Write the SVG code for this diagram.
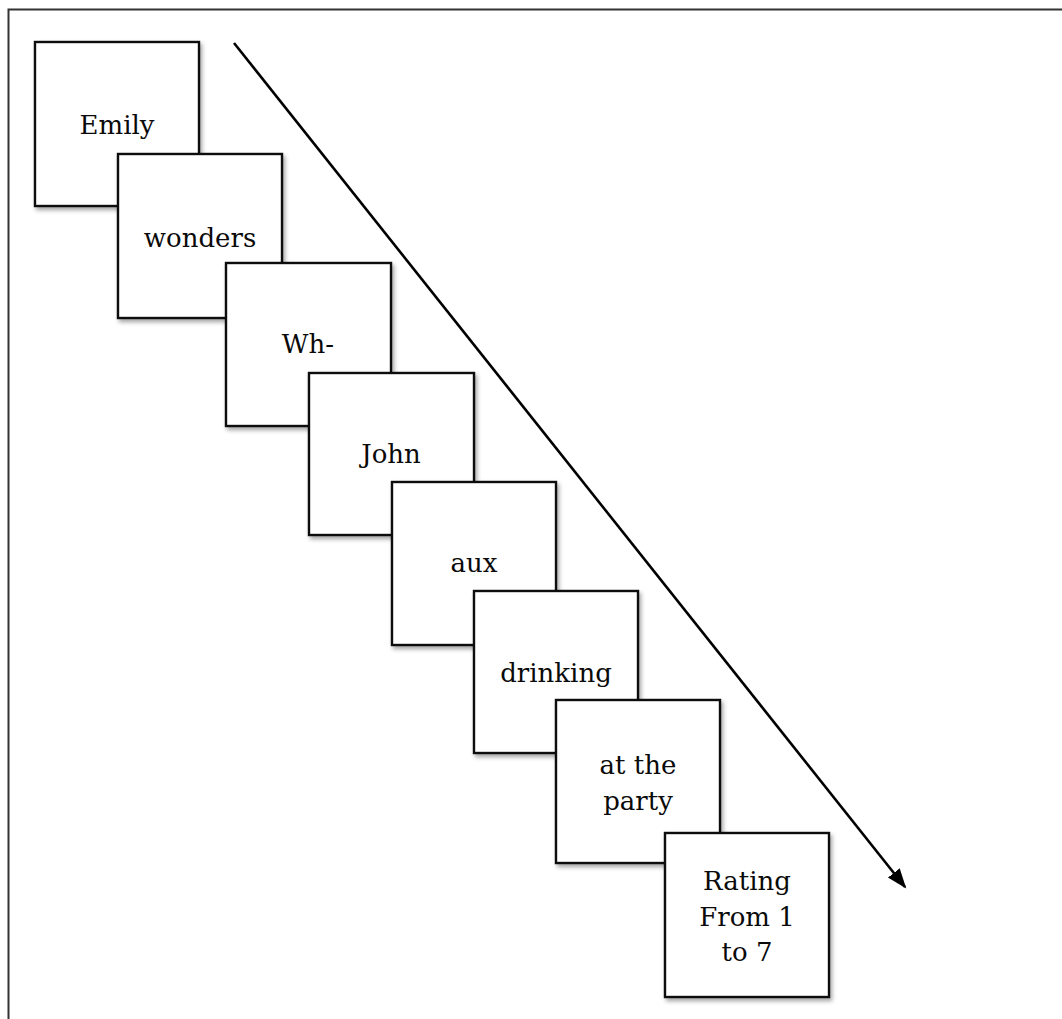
<svg xmlns="http://www.w3.org/2000/svg" width="1062" height="1019" viewBox="0 0 1062 1019">
  <defs>
    <filter id="sh" x="-10%" y="-10%" width="125%" height="125%">
      <feDropShadow dx="2" dy="3" stdDeviation="2" flood-color="#000" flood-opacity="0.35"/>
    </filter>
    <marker id="ah" markerUnits="userSpaceOnUse" markerWidth="22" markerHeight="18" refX="18" refY="9" orient="auto">
      <path d="M0,1.5 L20,9 L0,16.5 Z" fill="#000"/>
    </marker>
    <style>
      .box { fill: #fff; stroke: #111; stroke-width: 2.4; filter: url(#sh); }
      .lbl { font-family: "DejaVu Serif", "Liberation Serif", serif; font-size: 26px; fill: #0a0a0a; text-anchor: middle; }
      .frame { fill: none; stroke: #333; stroke-width: 2; }
    </style>
  </defs>
  <rect width="1062" height="1019" fill="#fff"/>
  <path class="frame" d="M8.5,1019 V9.5 H1062"/>

  <g id="connectors">
    <line x1="234" y1="43" x2="905" y2="887" stroke="#000" stroke-width="2.6" marker-end="url(#ah)"/>
  </g>

  <g id="node-emily">
    <rect class="box" x="35" y="42" width="164" height="164"/>
    <text class="lbl" x="117" y="134">Emily</text>
  </g>
  <g id="node-wonders">
    <rect class="box" x="118" y="154" width="164" height="164"/>
    <text class="lbl" x="200" y="247">wonders</text>
  </g>
  <g id="node-wh">
    <rect class="box" x="226" y="263" width="165" height="163"/>
    <text class="lbl" x="308" y="353">Wh-</text>
  </g>
  <g id="node-john">
    <rect class="box" x="309" y="373" width="165" height="162"/>
    <text class="lbl" x="391" y="463">John</text>
  </g>
  <g id="node-aux">
    <rect class="box" x="392" y="482" width="164" height="163"/>
    <text class="lbl" x="474" y="572">aux</text>
  </g>
  <g id="node-drinking">
    <rect class="box" x="474" y="591" width="164" height="162"/>
    <text class="lbl" x="556" y="682">drinking</text>
  </g>
  <g id="node-party">
    <rect class="box" x="556" y="700" width="164" height="163"/>
    <text class="lbl" x="638" y="774">at the</text>
    <text class="lbl" x="638" y="810">party</text>
  </g>
  <g id="node-rating">
    <rect class="box" x="665" y="833" width="164" height="164"/>
    <text class="lbl" x="747" y="890">Rating</text>
    <text class="lbl" x="747" y="926">From 1</text>
    <text class="lbl" x="747" y="961">to 7</text>
  </g>
</svg>
